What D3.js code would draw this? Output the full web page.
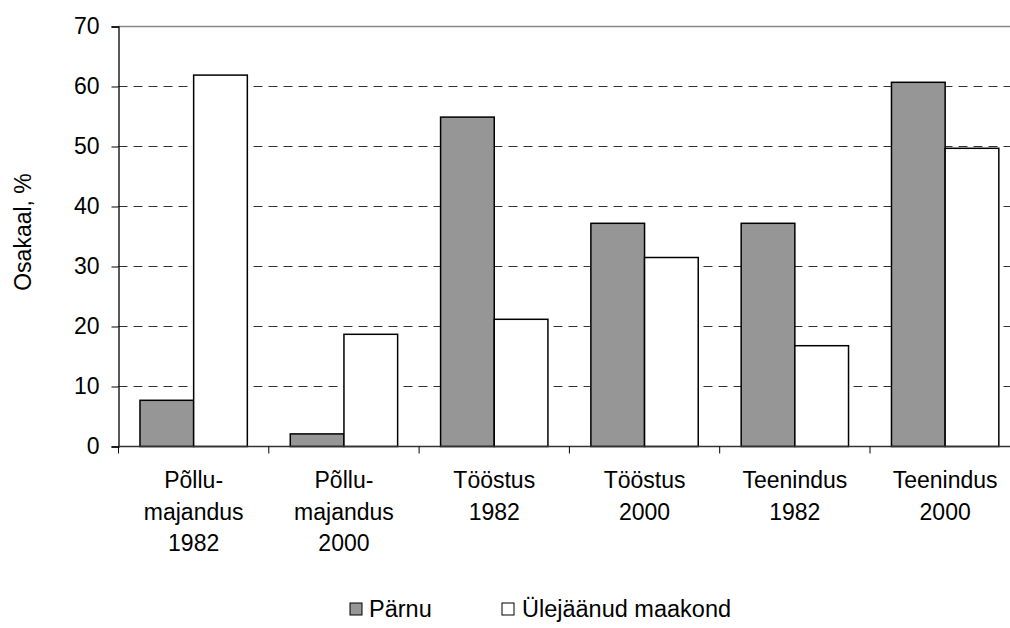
<!DOCTYPE html>
<html><head><meta charset="utf-8">
<script src="https://cdn.jsdelivr.net/npm/d3@7"></script>
<style>body{margin:0;background:#fff}svg{display:block}text{font-family:"Liberation Sans",Arial,sans-serif;fill:#000}</style>
</head><body>
<script>
const categories = [["Põllu-","majandus","1982"],["Põllu-","majandus","2000"],["Tööstus","1982"],["Tööstus","2000"],["Teenindus","1982"],["Teenindus","2000"]];
const seriesNames = ["Pärnu","Ülejäänud maakond"];
const parnu = [7.7, 2.1, 54.9, 37.2, 37.2, 60.7];
const ylejaanud = [61.9, 18.7, 21.2, 31.5, 16.8, 49.7];
const yTicks = [0,10,20,30,40,50,60,70];
const yTitle = "Osakaal, %";

const W=1010,H=628,FS=23;
const svg=d3.select("body").append("svg").attr("width",W).attr("height",H);
const mLeft=118.5, mTop=26.5, mBottom=446.5, mRight=mLeft+6*150.3;
const x=d3.scaleBand().domain(d3.range(categories.length)).range([mLeft,mRight]).paddingInner(0).paddingOuter(0);
const y=d3.scaleLinear().domain([0,70]).range([mBottom,mTop]);
const inner=d3.scaleBand().domain([0,1]).range([0,x.bandwidth()]).paddingOuter(0.4).paddingInner(0);
const fills=["#969696","#ffffff"];

// gridlines
svg.append("g").selectAll("line").data(yTicks.filter(t=>t>0&&t<70)).join("line")
  .attr("x1",mLeft).attr("x2",W).attr("y1",d=>y(d)).attr("y2",d=>y(d))
  .attr("stroke","#333").attr("stroke-width",1).attr("stroke-dasharray","9,6");
svg.append("line").attr("x1",mLeft).attr("x2",W).attr("y1",y(70)).attr("y2",y(70))
  .attr("stroke","#888").attr("stroke-width",1.5);

// bars
const data=[parnu,ylejaanud];
data.forEach((vals,si)=>{
  svg.append("g").selectAll("rect").data(vals).join("rect")
    .attr("x",(d,i)=>x(i)+inner(si)).attr("width",inner.bandwidth())
    .attr("y",d=>y(d)).attr("height",d=>y(0)-y(d))
    .attr("fill",fills[si]).attr("stroke","#000").attr("stroke-width",1.5);
});

// y axis
const ya=svg.append("g").attr("transform",`translate(${mLeft},0)`)
  .call(d3.axisLeft(y).tickValues(yTicks).tickSize(7).tickPadding(12));
ya.select(".domain").attr("stroke","#000").attr("stroke-width",1.3);
ya.selectAll(".tick line").attr("stroke","#000");
ya.selectAll(".tick text").attr("font-size",FS).attr("font-family","Liberation Sans, Arial, sans-serif").attr("fill","#000");

// x axis
const xa=svg.append("g").attr("transform",`translate(0,${mBottom})`);
xa.append("line").attr("x1",mLeft).attr("x2",W).attr("y1",0).attr("y2",0).attr("stroke","#333").attr("stroke-width",1.3);
xa.selectAll("line.tk").data(d3.range(categories.length+1)).join("line").attr("class","tk")
  .attr("x1",i=>mLeft+i*x.step()).attr("x2",i=>mLeft+i*x.step()).attr("y1",0).attr("y2",7).attr("stroke","#000");
categories.forEach((lines,i)=>{
  const t=svg.append("text").attr("text-anchor","middle").attr("font-size",FS)
    .attr("x",x(i)+x.bandwidth()/2).attr("y",488);
  lines.forEach((l,j)=>t.append("tspan").attr("x",x(i)+x.bandwidth()/2).attr("y",488+j*31.5).text(l));
});

// y title
svg.append("text").attr("transform",`translate(31,232) rotate(-90)`).attr("text-anchor","middle")
  .attr("font-size",FS).text(yTitle);

// legend
const lg=[{x:350,tx:369},{x:502,tx:522}];
seriesNames.forEach((n,i)=>{
  svg.append("rect").attr("x",lg[i].x).attr("y",603).attr("width",12).attr("height",12)
    .attr("fill",fills[i]).attr("stroke","#000").attr("stroke-width",1);
  svg.append("text").attr("x",lg[i].tx).attr("y",617).attr("font-size",23.5).text(n);
});
</script>
</body></html>
